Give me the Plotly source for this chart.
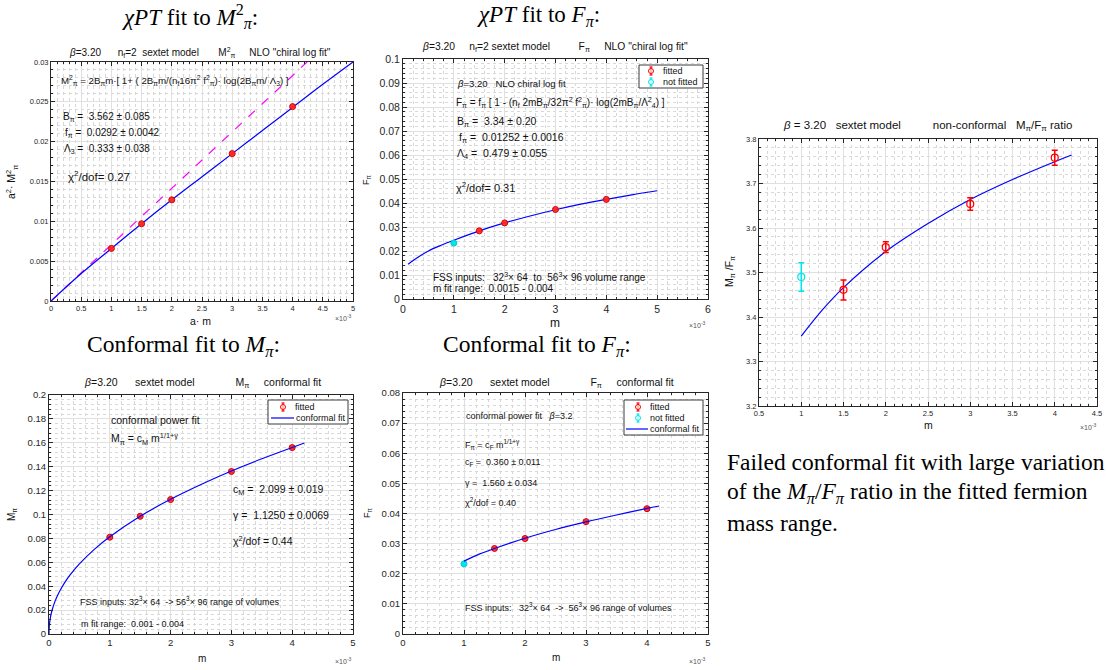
import plotly.graph_objects as go

W, H = 1106, 670

# ---------------- data ----------------
# Panel 1: chiPT fit to M_pi^2
m1 = [0.001, 0.0015, 0.002, 0.003, 0.004]
mpi2 = [0.0066, 0.0097, 0.0127, 0.0185, 0.0244]
mpi2_err = [0.0001, 0.0001, 0.0001, 0.0001, 0.0001]
fit1_m = [0, 0.0005, 0.001, 0.0015, 0.002, 0.0025, 0.003, 0.0035, 0.004, 0.0045, 0.005]
fit1_y = [0, 0.00345, 0.0066, 0.0097, 0.0127, 0.0156, 0.0185, 0.0214, 0.0243, 0.0272, 0.0300]
lo1_m = [0, 0.00424]
lo1_y = [0, 0.0300]

# Panel 2: chiPT fit to F_pi
m2_fit = [0.0015, 0.002, 0.003, 0.004]
fpi_fit = [0.0284, 0.0317, 0.0373, 0.0415]
fpi_fit_err = [0.0003, 0.0003, 0.0003, 0.0003]
m2_nf = [0.001]
fpi_nf = [0.0233]
fpi_nf_err = [0.0004]
fit2_m = [0.0001, 0.00025, 0.0005, 0.00075, 0.001, 0.0015, 0.002, 0.0025, 0.003, 0.0035, 0.004, 0.0045, 0.005]
fit2_y = [0.0145, 0.0168, 0.0200, 0.0224, 0.0245, 0.0284, 0.0317, 0.0346, 0.0372, 0.0395, 0.0415, 0.0434, 0.0451]

# Panel 3: conformal fit to M_pi
m3 = [0.001, 0.0015, 0.002, 0.003, 0.004]
mpi = [0.0810, 0.0985, 0.1125, 0.1360, 0.1560]
mpi_err = [0.0008, 0.0008, 0.0008, 0.0008, 0.0008]
fit3_m = [0, 0.000001, 0.000005, 0.00001, 0.00002, 0.00003, 0.00005, 0.0001, 0.00015, 0.0002,
          0.00025, 0.00035, 0.0005, 0.00075, 0.001, 0.0015, 0.002, 0.0025, 0.003, 0.0035, 0.004, 0.0042]
fit3_y = [0, 0.0031, 0.0067, 0.0093, 0.0129, 0.0156, 0.0199, 0.0275, 0.0333, 0.0381,
          0.0424, 0.0496, 0.0587, 0.0710, 0.0813, 0.0985, 0.1127, 0.1251, 0.1364, 0.1466, 0.1561, 0.1598]

# Panel 4: conformal fit to F_pi
m4_fit = [0.0015, 0.002, 0.003, 0.004]
fpi4_fit = [0.0284, 0.0317, 0.0373, 0.0416]
fpi4_err = [0.0003, 0.0003, 0.0003, 0.0003]
m4_nf = [0.001]
fpi4_nf = [0.0233]
fpi4_nf_err = [0.0004]
fit4_m = [0.001, 0.00125, 0.0015, 0.002, 0.0025, 0.003, 0.0035, 0.004, 0.0042]
fit4_y = [0.0242, 0.0265, 0.0284, 0.0318, 0.0347, 0.0372, 0.0395, 0.0417, 0.0425]

# Panel 5: M_pi/F_pi ratio
m5_fit = [0.0015, 0.002, 0.003, 0.004]
ratio_fit = [3.461, 3.557, 3.654, 3.758]
ratio_err_p = [0.022, 0.012, 0.014, 0.017]
ratio_err_m = [0.023, 0.012, 0.014, 0.017]
m5_nf = [0.001]
ratio_nf = [3.490]
ratio_nf_err = [0.032]
fit5_m = [0.001, 0.00125, 0.0015, 0.002, 0.0025, 0.003, 0.0035, 0.004, 0.0042]
fit5_y = [3.357, 3.416, 3.466, 3.547, 3.610, 3.664, 3.709, 3.749, 3.764]

# legend labels
leg_fitted = "fitted"
leg_notfitted = "not fitted"
leg_conf = "conformal fit"

# ---------------- layout helpers ----------------
SANS = "Liberation Sans, Arial, sans-serif"
SERIF = "Liberation Serif, Times New Roman, serif"
AX = "#262626"
RED = "#ff0000"
CYAN = "#00e5ee"
BLUE = "#0000ff"


def px(x):
    return x / W


def py(y):
    return 1 - y / H


fig = go.Figure()
annotations = []
shapes = []


def axis_pair(idx, xpix, ypix, xr, xminor, yr, ydt, yminor, tickfs, xtickvals, xticktext,
              ytickfmt=None):
    sfx = "" if idx == 1 else str(idx)
    common = dict(showline=True, linecolor=AX, linewidth=1, mirror="ticks", ticks="inside", ticklen=4,
                  tickcolor=AX, showgrid=True, gridcolor="#e0e0e0", gridwidth=1, zeroline=False,
                  automargin=False, tickfont=dict(family=SANS, size=tickfs, color=AX))
    xa = dict(domain=[px(xpix[0]), px(xpix[1])], range=xr, anchor="y" + sfx,
              tickvals=xtickvals, ticktext=xticktext,
              minor=dict(dtick=xminor, showgrid=True, gridcolor="#d8d8d8", griddash="dot",
                         gridwidth=1, ticks="inside", ticklen=2, tickcolor=AX), **common)
    ya = dict(domain=[py(ypix[1]), py(ypix[0])], range=yr, anchor="x" + sfx, dtick=ydt,
              tick0=yr[0],
              minor=dict(dtick=yminor, showgrid=True, gridcolor="#d8d8d8", griddash="dot",
                         gridwidth=1, ticks="inside", ticklen=2, tickcolor=AX), **common)
    if ytickfmt:
        ya["tickformat"] = ytickfmt
    fig.update_layout(**{"xaxis" + sfx: xa, "yaxis" + sfx: ya})


def ann(x, y, text, size, family=SANS, xanchor="left", angle=0, color="#111111"):
    annotations.append(dict(x=px(x), y=py(y), xref="paper", yref="paper", text=text,
                            showarrow=False, xanchor=xanchor, yanchor="middle", textangle=angle,
                            borderpad=0, font=dict(family=family, size=size, color=color)))


def legend_box(x0, y0, x1, y1, rows):
    """Legend key box drawn in paper space (layout decoration, not data)."""
    shapes.append(dict(type="rect", xref="paper", yref="paper", x0=px(x0), x1=px(x1),
                       y0=py(y1), y1=py(y0), fillcolor="white", line=dict(color="#3a3a3a", width=1),
                       layer="above"))
    for kind, color, label, yy, sx, tx in rows:
        if kind == "marker":
            shapes.append(dict(type="line", xref="paper", yref="paper", x0=px(sx), x1=px(sx),
                               y0=py(yy + 4), y1=py(yy - 4), line=dict(color=color, width=1.2), layer="above"))
            for e in (-4, 4):
                shapes.append(dict(type="line", xref="paper", yref="paper", x0=px(sx - 1.5), x1=px(sx + 1.5),
                                   y0=py(yy + e), y1=py(yy + e), line=dict(color=color, width=1.2), layer="above"))
            shapes.append(dict(type="circle", xref="paper", yref="paper", x0=px(sx - 2.5), x1=px(sx + 2.5),
                               y0=py(yy + 2.5), y1=py(yy - 2.5), fillcolor="rgba(255,255,255,0.6)",
                               line=dict(color=color, width=1), layer="above"))
        else:
            shapes.append(dict(type="line", xref="paper", yref="paper", x0=px(sx[0]), x1=px(sx[1]),
                               y0=py(yy), y1=py(yy), line=dict(color=color, width=1.2), layer="above"))
        ann(tx, yy, label, 9)


RED_MARK = dict(color="rgba(255,40,40,0.9)", size=6, line=dict(color="#d00000", width=1))
CYAN_MARK = dict(color=CYAN, size=6, line=dict(color="#00c8d0", width=1))

# ---------------- Panel 1 ----------------
tv1 = [i * 0.0005 for i in range(11)]
axis_pair(1, (51, 353), (62, 301), [0, 0.005], 0.0001, [0, 0.03], 0.005, 0.001, 7.5,
          tv1, ["0", "0.5", "1", "1.5", "2", "2.5", "3", "3.5", "4", "4.5", "5"])
fig.add_trace(go.Scatter(x=lo1_m, y=lo1_y, mode="lines", line=dict(color="#ff00ff", width=1.2, dash="dash"),
                         xaxis="x", yaxis="y"))
fig.add_trace(go.Scatter(x=fit1_m, y=fit1_y, mode="lines", line=dict(color=BLUE, width=1.2, shape="spline"),
                         xaxis="x", yaxis="y"))
fig.add_trace(go.Scatter(x=m1, y=mpi2, mode="markers", marker=RED_MARK,
                         error_y=dict(type="data", array=mpi2_err, color=RED, thickness=1, width=2),
                         xaxis="x", yaxis="y"))

# ---------------- Panel 2 ----------------
tv2 = [i * 0.001 for i in range(7)]
axis_pair(2, (403, 708), (59, 299), [0, 0.006], 0.0002, [0, 0.1], 0.01, 0.002, 10.5,
          tv2, [str(i) for i in range(7)])
fig.add_trace(go.Scatter(x=fit2_m, y=fit2_y, mode="lines", line=dict(color=BLUE, width=1.2, shape="spline"),
                         xaxis="x2", yaxis="y2"))
fig.add_trace(go.Scatter(x=m2_fit, y=fpi_fit, mode="markers", name=leg_fitted, marker=RED_MARK,
                         error_y=dict(type="data", array=fpi_fit_err, color=RED, thickness=1, width=2),
                         xaxis="x2", yaxis="y2"))
fig.add_trace(go.Scatter(x=m2_nf, y=fpi_nf, mode="markers", name=leg_notfitted, marker=CYAN_MARK,
                         error_y=dict(type="data", array=fpi_nf_err, color=CYAN, thickness=1, width=2),
                         xaxis="x2", yaxis="y2"))
legend_box(639, 65, 703, 88, [("marker", RED, leg_fitted, 71, 651, 662),
                              ("marker", CYAN, leg_notfitted, 82, 651, 662)])

# ---------------- Panel 3 ----------------
tv3 = [i * 0.001 for i in range(6)]
axis_pair(3, (49, 353), (395, 634), [0, 0.005], 0.0002, [0, 0.2], 0.02, 0.004, 9.5,
          tv3, [str(i) for i in range(6)])
fig.add_trace(go.Scatter(x=m3, y=mpi, mode="markers", name=leg_fitted, marker=RED_MARK,
                         error_y=dict(type="data", array=mpi_err, color=RED, thickness=1, width=2),
                         xaxis="x3", yaxis="y3"))
fig.add_trace(go.Scatter(x=fit3_m, y=fit3_y, mode="lines", name=leg_conf,
                         line=dict(color=BLUE, width=1.2, shape="spline", smoothing=0.6),
                         xaxis="x3", yaxis="y3"))
legend_box(268, 400, 348, 424, [("marker", RED, leg_fitted, 407, 283, 294),
                                ("line", BLUE, leg_conf, 418, (271, 294), 295)])

# ---------------- Panel 4 ----------------
axis_pair(4, (403, 708), (393, 634), [0, 0.005], 0.0002, [0, 0.08], 0.01, 0.002, 9.5,
          tv3, [str(i) for i in range(6)])
fig.add_trace(go.Scatter(x=m4_fit, y=fpi4_fit, mode="markers", name=leg_fitted, marker=RED_MARK,
                         error_y=dict(type="data", array=fpi4_err, color=RED, thickness=1, width=2),
                         xaxis="x4", yaxis="y4"))
fig.add_trace(go.Scatter(x=m4_nf, y=fpi4_nf, mode="markers", name=leg_notfitted, marker=CYAN_MARK,
                         error_y=dict(type="data", array=fpi4_nf_err, color=CYAN, thickness=1, width=2),
                         xaxis="x4", yaxis="y4"))
fig.add_trace(go.Scatter(x=fit4_m, y=fit4_y, mode="lines", name=leg_conf,
                         line=dict(color=BLUE, width=1.2, shape="spline"),
                         xaxis="x4", yaxis="y4"))
legend_box(624, 400, 703, 435, [("marker", RED, leg_fitted, 407, 638, 649),
                                ("marker", CYAN, leg_notfitted, 418, 638, 649),
                                ("line", BLUE, leg_conf, 429, (626, 648), 649)])

# ---------------- Panel 5 ----------------
tv5 = [0.0005 + i * 0.0005 for i in range(9)]
axis_pair(5, (759, 1097), (139, 406), [0.0005, 0.0045], 0.0001, [3.2, 3.8], 0.1, 0.02, 7.5,
          tv5, ["0.5", "1", "1.5", "2", "2.5", "3", "3.5", "4", "4.5"], ytickfmt=".1f")
fig.add_trace(go.Scatter(x=fit5_m, y=fit5_y, mode="lines", line=dict(color=BLUE, width=1.2, shape="spline"),
                         xaxis="x5", yaxis="y5"))
fig.add_trace(go.Scatter(x=m5_fit, y=ratio_fit, mode="markers",
                         marker=dict(color="rgba(0,0,0,0)", size=7, line=dict(color=RED, width=1.2)),
                         error_y=dict(type="data", array=ratio_err_p, arrayminus=ratio_err_m,
                                      color=RED, thickness=1.5, width=3),
                         xaxis="x5", yaxis="y5"))
fig.add_trace(go.Scatter(x=m5_nf, y=ratio_nf, mode="markers",
                         marker=dict(color="rgba(0,0,0,0)", size=7, line=dict(color=CYAN, width=1.2)),
                         error_y=dict(type="data", array=ratio_nf_err, color=CYAN, thickness=1.5, width=3),
                         xaxis="x5", yaxis="y5"))

# ---------------- Text annotations ----------------
# main titles
ann(190, 17, "<i>χPT</i> fit to <i>M</i><sup>2</sup><sub><i>π</i></sub>:", 23, SERIF, "center", color="black")
ann(538, 16, "<i>χPT</i> fit to <i>F<sub>π</sub></i>:", 23, SERIF, "center", color="black")
ann(183, 346, "Conformal fit to <i>M<sub>π</sub></i>:", 23.5, SERIF, "center", color="black")
ann(537, 346, "Conformal fit to <i>F<sub>π</sub></i>:", 23.5, SERIF, "center", color="black")

# caption
ann(726, 462, "Failed conformal fit with large variation", 23.5, SERIF, color="black")
ann(726, 493, "of the <i>M<sub>π</sub></i>/<i>F<sub>π</sub></i> ratio in the fitted fermion", 23.5, SERIF, color="black")
ann(726, 523, "mass range.", 23.5, SERIF, color="black")

# panel titles
ann(200, 52, "<i>β</i>=3.20      n<sub>f</sub>=2  sextet model       M<sup>2</sup><sub>π</sub>     NLO \"chiral log fit\"", 10, SANS, "center")
ann(555, 48, "<i>β</i>=3.20     n<sub>f</sub>=2 sextet model          F<sub>π</sub>     NLO \"chiral log fit\"", 10.3, SANS, "center")
ann(202, 383, "<i>β</i>=3.20      sextet model              M<sub>π</sub>     conformal fit", 10.5, SANS, "center")
ann(556, 383, "<i>β</i>=3.20      sextet model              F<sub>π</sub>     conformal fit", 10.5, SANS, "center")
ann(927, 126, "<i>β</i> = 3.20   sextet model          non-conformal   M<sub>π</sub>/F<sub>π</sub> ratio", 11.5, SANS, "center")

# axis labels
ann(200, 321, "a· m", 10.5, SANS, "center")
ann(12, 182, "a<sup>2</sup>· M<sup>2</sup><sub>π</sub>", 10.5, SANS, "center", angle=-90)
ann(555, 323, "m", 12, SANS, "center")
ann(366, 180, "F<sub>π</sub>", 9, SANS, "center", angle=-90)
ann(202, 658, "m", 10, SANS, "center")
ann(12, 515, "M<sub>π</sub>", 10, SANS, "center", angle=-90)
ann(556, 657, "m", 10, SANS, "center")
ann(367, 513, "F<sub>π</sub>", 9, SANS, "center", angle=-90)
ann(928, 425, "m", 10.5, SANS, "center")
ann(730, 272, "M<sub>π</sub> /F<sub>π</sub>", 10.5, SANS, "center", angle=-90)

# x10^-3 markers
for (xx, yy) in [(343, 318), (697, 325), (343, 661), (697, 661), (1088, 427)]:
    ann(xx, yy, "×10<sup>-3</sup>", 7, SANS, "center", color="#555555")

# panel 1 text
ann(60, 80, "M<sup>2</sup><sub>π</sub> = 2B<sub>π</sub>m·[ 1+ ( 2B<sub>π</sub>m/(n<sub>f</sub>16π<sup>2</sup> f<sup>2</sup><sub>π</sub>)· log(2B<sub>π</sub>m/ Λ<sub>3</sub>) ]", 9.7)
ann(62, 117, "B<sub>π</sub> =  3.562 ± 0.085", 10)
ann(64, 133, "f<sub>π</sub> =  0.0292 ± 0.0042", 10)
ann(63, 149, "Λ<sub>3</sub> =  0.333 ± 0.038", 10)
ann(67, 176, "χ<sup>2</sup>/dof= 0.27", 11.5)

# panel 2 text
ann(456, 84, "<i>β</i>=3.20   NLO chiral log fit", 9.5)
ann(455, 102, "F<sub>π</sub> = f<sub>π</sub> [ 1 - (n<sub>f</sub> 2mB<sub>π</sub>/32π<sup>2</sup> f<sup>2</sup><sub>π</sub>)· log(2mB<sub>π</sub>/Λ<sup>2</sup><sub>4</sub>) ]", 10)
ann(456, 122, "B<sub>π</sub> =  3.34 ± 0.20", 10.5)
ann(458, 138, "f<sub>π</sub> =  0.01252 ± 0.0016", 10.5)
ann(456, 154, "Λ<sub>4</sub> =  0.479 ± 0.055", 10.5)
ann(455, 187, "χ<sup>2</sup>/dof= 0.31", 11)
ann(432, 277, "FSS inputs:   32<sup>3</sup>× 64  to  56<sup>3</sup>× 96 volume range", 10)
ann(432, 288, "m fit range:  0.0015 - 0.004", 10)

# panel 3 text
ann(110, 420, "conformal power fit", 10.5)
ann(110, 439, "M<sub>π</sub> = c<sub>M</sub> m<sup>1/1+γ</sup>", 10.5)
ann(232, 490, "c<sub>M</sub> =  2.099 ± 0.019", 10.5)
ann(232, 515, "γ =  1.1250 ± 0.0069", 10.5)
ann(232, 540, "χ<sup>2</sup>/dof = 0.44", 10.5)
ann(79, 601, "FSS inputs: 32<sup>3</sup>× 64  -> 56<sup>3</sup>× 96 range of volumes", 9)
ann(80, 624, "m fit range:  0.001 - 0.004", 9)

# panel 4 text
ann(465, 416, "conformal power fit   <i>β</i>=3.2", 9)
ann(464, 444, "F<sub>π</sub> = c<sub>F</sub> m<sup>1/1+γ</sup>", 9)
ann(464, 462, "c<sub>F</sub> =  0.360 ± 0.011", 9)
ann(464, 483, "γ =  1.560 ± 0.034", 9)
ann(464, 502, "χ<sup>2</sup>/dof = 0.40", 9)
ann(464, 607, "FSS inputs:   32<sup>3</sup>× 64  ->  56<sup>3</sup>× 96 range of volumes", 9)

fig.update_layout(
    width=W, height=H, autosize=False,
    margin=dict(l=0, r=0, t=0, b=0, pad=0),
    paper_bgcolor="white", plot_bgcolor="white",
    showlegend=False,
    annotations=annotations,
    shapes=shapes,
)

fig.write_html("out.html", config={"displayModeBar": False},
               post_script="document.body.style.margin='0px';")
